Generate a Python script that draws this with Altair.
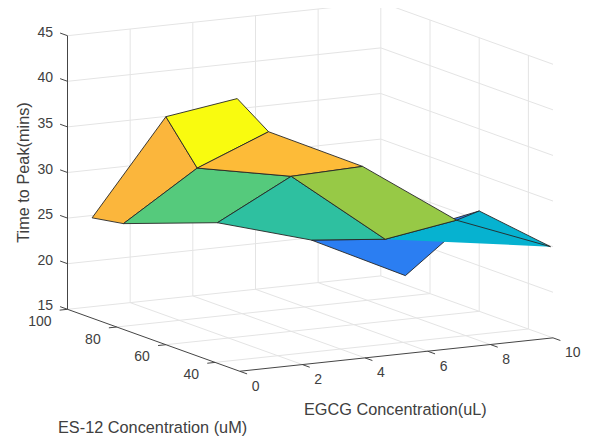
import altair as alt
import pandas as pd

# Surface values
EGCG = [0, 1, 4, 7, 10]
ES12 = [90, 60, 31]
PEAK = [
    [26, 25, 24, 21, 16],
    [40, 34, 32, 24, 26],
    [44.8, 40.8, 35.9, 28.9, 24.9],
]
# parula colours of the faces, by the rounded value that sets each face
FACE_COLOURS = {24: "#2b7ef2", 29: "#06b2d0", 32: "#2ec0a0", 34: "#55ca7c",
                36: "#97c946", 40: "#fbb63c", 41: "#fdbb38", 45: "#f9fb0f"}

X_TICKS = [0, 2, 4, 6, 8, 10]
Y_TICKS = [40, 60, 80, 100]
Z_TICKS = [15, 20, 25, 30, 35, 40, 45]
X_LIM = (0, 10)
Y_LIM = (30, 100)
Z_LIM = (15, 45)

AXIS_COLOUR = "#454545"
GRID_COLOUR = "#e4e4e4"
TEXT_COLOUR = "#404040"
EDGE_COLOUR = "#262626"
FONT = "Liberation Sans"


def proj(x, y, z):
    """Orthographic view of the 3-D box, in page pixels."""
    u = 100 - y
    return (67.5 + 31.33 * x + 2.46 * u,
            309.3 - 3.34 * x + 0.885 * u - 9.12 * (z - 15))


X = alt.X("px:Q", axis=None, scale=alt.Scale(domain=[8, 584], nice=False, zero=False))
Y = alt.Y("py:Q", axis=None, scale=alt.Scale(domain=[436, 8], nice=False, zero=False))


def path_rows(points, key=0):
    rows = []
    for i, p in enumerate(points):
        sx, sy = proj(*p)
        rows.append({"px": sx, "py": sy, "i": i, "k": key})
    return rows


def lines(segments, colour, width):
    rows = []
    for k, seg in enumerate(segments):
        rows += path_rows(seg, k)
    return alt.Chart(pd.DataFrame(rows)).mark_line(
        color=colour, strokeWidth=width, interpolate="linear"
    ).encode(x=X, y=Y, order="i:Q", detail="k:N")


def node(r, c):
    return (EGCG[c], ES12[r], PEAK[r][c])


def colour_of(r, c):
    return FACE_COLOURS[round(PEAK[r][c])]


def face(nodes, colour, stroke=True):
    pts = [node(*n) for n in nodes] + [node(*nodes[0])]
    return alt.Chart(pd.DataFrame(path_rows(pts))).mark_line(
        fill=colour,
        stroke=EDGE_COLOUR if stroke else "transparent",
        strokeWidth=0.9,
        strokeJoin="round",
    ).encode(x=X, y=Y, order="i:Q")


def labels(rows, align, size=14, angle=0):
    return alt.Chart(pd.DataFrame(rows)).mark_text(
        font=FONT, fontSize=size, color=TEXT_COLOUR, align=align,
        baseline="middle", angle=angle,
    ).encode(x=X, y=Y, text="t:N")


x0, x1 = X_LIM
y0, y1 = Y_LIM
z0, z1 = Z_LIM

grid_segments = []
for z in Z_TICKS:
    grid_segments.append([(x0, y1, z), (x1, y1, z)])
    grid_segments.append([(x1, y1, z), (x1, y0, z)])
for x in X_TICKS[1:]:
    grid_segments.append([(x, y1, z0), (x, y1, z1)])
for y in Y_TICKS[:-1]:
    grid_segments.append([(x1, y, z0), (x1, y, z1)])
for x in X_TICKS[1:-1]:
    grid_segments.append([(x, y0, z0), (x, y1, z0)])
for y in Y_TICKS[:-1]:
    grid_segments.append([(x0, y, z0), (x1, y, z0)])

axis_segments = [
    [(x0, y1, z0), (x0, y1, z1)],
    [(x0, y0, z0), (x0, y1, z0)],
    [(x0, y0, z0), (x1, y0, z0)],
]
for z in Z_TICKS:
    axis_segments.append([(x0, y1 + 3, z), (x0, y1, z)])
for y in Y_TICKS:
    axis_segments.append([(x0 - 0.25, y, z0), (x0, y, z0)])
for x in X_TICKS:
    axis_segments.append([(x, y0 - 3, z0), (x, y0, z0)])

z_rows = []
for z in Z_TICKS:
    sx, sy = proj(x0, y1, z)
    z_rows.append({"px": sx - 14.5, "py": sy - 3, "t": str(z)})
y_rows = []
for y in Y_TICKS:
    sx, sy = proj(x0, y, z0)
    y_rows.append({"px": sx - 16, "py": sy + 12.5, "t": str(y)})
x_rows = []
for x in X_TICKS:
    sx, sy = proj(x, y0, z0)
    x_rows.append({"px": sx + 12, "py": sy + 15.6, "t": str(x)})

title_rows_h = [{"px": 304, "py": 410, "t": "EGCG Concentration(uL)"},
                {"px": 58, "py": 428, "t": "ES-12 Concentration (uM)"}]
title_rows_v = [{"px": 23.5, "py": 172.5, "t": "Time to Peak(mins)"}]

layers = [
    lines(grid_segments, GRID_COLOUR, 1),
    lines(axis_segments, AXIS_COLOUR, 1),
    face([(1, 3), (1, 4), (0, 4), (0, 3)], colour_of(1, 3)),
    face([(1, 3), (2, 3), (1, 4), (2, 4)], colour_of(2, 3), stroke=False),
    lines([[node(1, 3), node(2, 3), node(2, 4), node(1, 4)],
           [node(2, 3), node(1, 4)]], EDGE_COLOUR, 0.9),
    face([(0, 0), (0, 1), (1, 1), (1, 0)], colour_of(1, 0)),
    face([(1, 0), (1, 1), (2, 1), (2, 0)], colour_of(2, 0)),
    face([(0, 1), (0, 2), (1, 2), (1, 1)], colour_of(1, 1)),
    face([(1, 1), (1, 2), (2, 2), (2, 1)], colour_of(2, 1)),
    face([(0, 2), (0, 3), (1, 3), (1, 2)], colour_of(1, 2)),
    face([(1, 2), (1, 3), (2, 3), (2, 2)], colour_of(2, 2)),
    labels(z_rows, "right"),
    labels(y_rows, "right"),
    labels(x_rows, "left"),
    labels(title_rows_h, "left", size=16.3),
    labels(title_rows_v, "center", size=16.3, angle=270),
]

chart = alt.layer(*layers).properties(
    width=576, height=428, padding=0, autosize=alt.AutoSizeParams(type="none")
).configure_view(stroke=None)

chart.save("out.html", embed_options={"renderer": "svg", "actions": False})
